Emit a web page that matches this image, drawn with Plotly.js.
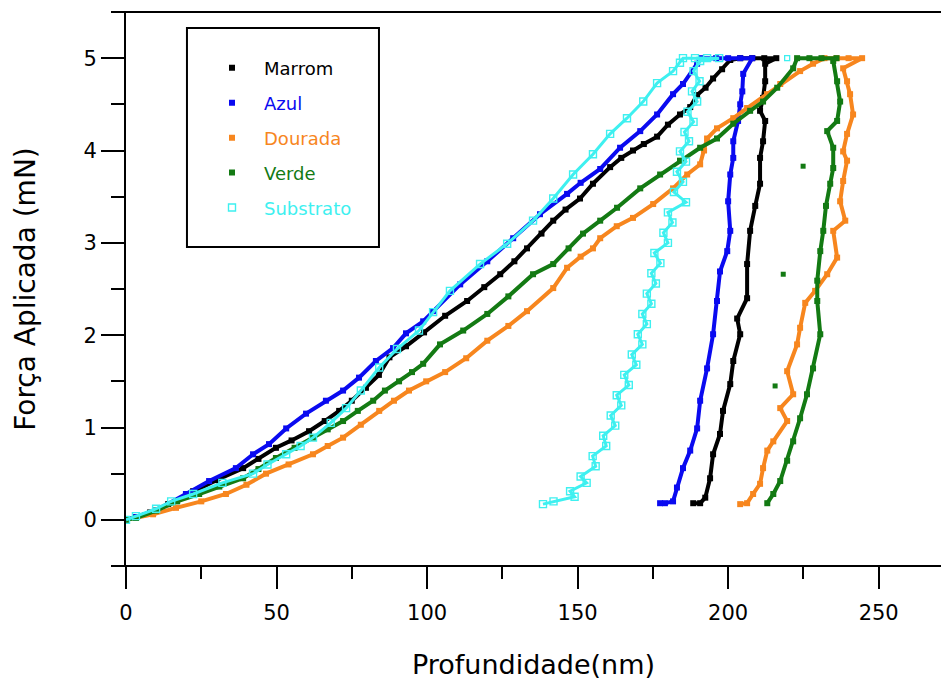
<!DOCTYPE html>
<html><head><meta charset="utf-8">
<script src="https://cdn.plot.ly/plotly-3.0.1.min.js"></script>
<style>html,body{margin:0;padding:0;background:#fff;} #chart{width:941px;height:684px;}</style>
</head><body><div id="chart"></div>
<script>
// Nanoindentation curves: Profundidade (nm) vs Força Aplicada (mN)
const seriesNames = ['Marrom', 'Azul', 'Dourada', 'Verde', 'Substrato'];
const seriesColors = ['#000000', '#0a0af0', '#f7861e', '#137a13', '#3ef0f0'];

const marromX = [0,3.3,8,14,22.3,30,38.9,44,49.8,55,60.8,66,70.8,75,79.7,84,87.5,93,99,106,113.3,119,124.3,129,133.2,138,141.9,146,150.8,155.1,160.8,164.5,168.4,172,176.4,180,184,187.4,189.7,192.5,195,198,200.7,
  204,208,212,216,
  212.3,212.3,211.6,210.6,212.3,211.6,210.6,210.6,209,207.3,206.3,206.3,203,204,201.7,200.7,198.3,197.3,195,194,192.4,190.7,188.4];
const marromY = [0,0.03,0.08,0.17,0.31,0.43,0.56,0.66,0.78,0.86,0.96,1.07,1.18,1.29,1.43,1.57,1.76,1.88,2.03,2.21,2.37,2.52,2.66,2.80,2.94,3.10,3.24,3.36,3.48,3.64,3.82,3.92,4.0,4.07,4.15,4.28,4.39,4.47,4.6,4.68,4.78,4.88,4.98,
  5,5,5,5,
  4.94,4.75,4.57,4.43,4.32,4.10,3.92,3.64,3.4,3.13,2.77,2.40,2.18,2.01,1.72,1.47,1.18,0.93,0.71,0.45,0.24,0.18,0.18];

const azulX = [0,3.3,10,19.9,27.6,36.5,42.2,47.5,53.2,59.8,66.4,72.1,77.4,83,88.7,93,98.7,102,111,120,128.6,137.5,146.5,151,157.5,164.1,170.8,176.4,181.7,185,189.7,191,
  196,200,204,208,
  205,204.7,204,203.3,201.7,201.7,200.7,200,200.7,199.7,197.3,196.3,195,193,190.7,189.7,187.4,185,183,181.7,179,177.4];
const azulY = [0,0.03,0.1,0.28,0.42,0.56,0.71,0.82,0.99,1.15,1.29,1.40,1.54,1.72,1.86,2.02,2.15,2.26,2.55,2.8,3.05,3.31,3.53,3.65,3.8,4.03,4.21,4.39,4.61,4.72,4.94,5,
  5,5,5,5,
  4.83,4.64,4.5,4.32,4.1,3.92,3.74,3.45,3.13,2.91,2.69,2.37,2.01,1.64,1.29,0.99,0.75,0.56,0.35,0.2,0.18,0.18];

const douradaX = [0,3.3,9,16.6,25,33.2,40,46.5,54,62.1,67,72.1,78,84.1,89,94,99.7,106,113,120,127,133.2,141.9,146.5,151,155.1,157.5,163,168.4,175.1,181.7,186.4,190.7,192,193,196.3,201.7,206.3,212.9,217.3,223.9,228.2,232,
  236,240,244.5,
  238.2,239.5,240.5,241.5,239.5,238.2,239.5,238.2,237.2,238.9,234.9,236.2,232.9,228.9,225.6,223.9,222.9,219.6,221.6,217.3,219.6,215,213,211.6,210.6,208.3,206.3,204];
const douradaY = [0,0.02,0.06,0.13,0.2,0.28,0.38,0.5,0.6,0.71,0.8,0.89,1.03,1.18,1.29,1.4,1.5,1.6,1.75,1.94,2.1,2.26,2.51,2.73,2.85,2.94,3.05,3.18,3.27,3.42,3.59,3.74,3.85,4.0,4.13,4.24,4.35,4.46,4.61,4.72,4.86,4.94,5,
  5,5,5,
  4.89,4.75,4.61,4.39,4.18,3.99,3.89,3.67,3.45,3.24,3.13,2.84,2.66,2.48,2.35,2.08,1.90,1.61,1.36,1.21,1.07,0.85,0.75,0.56,0.39,0.28,0.18,0.17];

const verdeX = [0,3.3,10,17,24.3,31,38.9,44,49.8,56,62.1,67,72.1,77,82.1,86,90.7,95,98.7,104.3,112,120,127,135.2,141.9,147,151.8,157.5,163.1,170.8,177.4,184,190.7,196.3,201.7,207.3,211.6,216.3,221.6,222.9,
  227,231,236,
  234.9,236.2,237.2,236.2,232.9,234.9,234.9,233.9,232.5,231.6,230.6,229.6,229.6,230.6,228.2,226.2,223.9,221.6,219.6,217.3,215,213];
const verdeY = [0,0.02,0.1,0.2,0.28,0.36,0.45,0.55,0.67,0.78,0.89,0.98,1.07,1.18,1.29,1.4,1.5,1.6,1.69,1.9,2.05,2.23,2.42,2.66,2.77,2.94,3.1,3.24,3.38,3.59,3.74,3.89,4.03,4.13,4.29,4.43,4.53,4.68,4.89,5,
  5,5,5,
  4.97,4.75,4.53,4.32,4.21,4.03,3.81,3.64,3.4,3.13,2.91,2.59,2.37,2.01,1.64,1.36,1.10,0.85,0.64,0.42,0.28,0.18];
const verdeStrayX = [224.9,218.3,215.6];
const verdeStrayY = [3.83,2.66,1.45];

const substratoX = [0,3.3,10,15,22.3,32,42.2,47,53.2,58,62.1,68,73.1,78,84.1,90,97.3,102,107.6,117.6,126.6,135.2,141.9,148.5,155.1,160.8,166.4,171.8,176.4,181.7,184,185,
  189,193,197,
  190.7,188.5,190.5,188,189.7,186.5,188.5,185.5,187,184,186,183,185,182,186,180,181.5,178.5,180,175.5,177.5,174.5,176,173,174.5,171.5,173,170,171.5,168,169.5,165.5,167,163,164.5,161,162.5,158.5,159.5,155,156,151,153,147.5,149,142,138.5];
const substratoY = [0,0.04,0.12,0.2,0.28,0.4,0.5,0.6,0.71,0.8,0.89,1.05,1.21,1.4,1.65,1.85,2.05,2.25,2.48,2.77,2.99,3.24,3.48,3.74,3.96,4.18,4.35,4.53,4.73,4.86,4.95,5,
  5,5,5,
  4.97,4.86,4.75,4.64,4.53,4.42,4.31,4.2,4.1,3.99,3.88,3.77,3.66,3.55,3.44,3.33,3.22,3.11,3.0,2.89,2.78,2.67,2.56,2.45,2.34,2.23,2.12,2.01,1.9,1.79,1.68,1.57,1.46,1.35,1.24,1.13,1.02,0.91,0.8,0.69,0.58,0.47,0.4,0.31,0.25,0.2,0.17];
const substratoStrayX = [219.6];
const substratoStrayY = [5];

const seriesData = [
  [marromX, marromY, null, null],
  [azulX, azulY, null, null],
  [douradaX, douradaY, null, null],
  [verdeX, verdeY, verdeStrayX, verdeStrayY],
  [substratoX, substratoY, substratoStrayX, substratoStrayY]
];

const FONT = 'DejaVu Sans, Arial, sans-serif';
const traces = [];
seriesData.forEach(function (d, i) {
  const col = seriesColors[i];
  const hollow = (i === 4);
  traces.push({
    x: d[0], y: d[1], type: 'scatter', mode: 'lines',
    line: {color: col, width: hollow ? 3 : 4},
    legendgroup: 'g' + i, showlegend: false, hoverinfo: 'skip'
  });
  traces.push({
    x: d[0], y: d[1], type: 'scatter', mode: 'markers',
    name: '<span style="color:' + col + '">' + seriesNames[i] + '</span>',
    marker: {symbol: hollow ? 'square-open' : 'square', size: hollow ? 7 : 6, color: col, line: {width: hollow ? 1.4 : 0, color: col}},
    legendgroup: 'g' + i, showlegend: true
  });
  if (d[2]) {
    traces.push({
      x: d[2], y: d[3], type: 'scatter', mode: 'markers',
      marker: {symbol: hollow ? 'square-open' : 'square', size: 5, color: col, line: {width: hollow ? 1.3 : 0, color: col}},
      legendgroup: 'g' + i, showlegend: false
    });
  }
});

const layout = {
  width: 941, height: 684,
  margin: {l: 126, r: 0, t: 12, b: 118, pad: 0},
  paper_bgcolor: '#ffffff', plot_bgcolor: '#ffffff',
  font: {family: FONT, color: '#000000'},
  showlegend: true,
  legend: {
    x: 0.0908, xanchor: 'left', y: 0.932, yanchor: 'top',
    bgcolor: 'rgba(0,0,0,0)', borderwidth: 0,
    font: {family: FONT, size: 18, color: '#000'},
    tracegroupgap: 8.5, traceorder: 'grouped', itemwidth: 54
  },
  xaxis: {
    range: [0, 270.7], tickmode: 'linear', tick0: 0, dtick: 50,
    ticks: 'outside', ticklen: 22, tickwidth: 2, tickcolor: '#000',
    minor: {ticks: 'outside', ticklen: 12, tickwidth: 2, tickcolor: '#000', dtick: 25, tick0: 0},
    showline: false, showgrid: false, zeroline: false,
    tickfont: {family: FONT, size: 21, color: '#000'}, ticklabelstandoff: 6,
    title: {text: '\u00a0Profundidade(nm)', font: {family: FONT, size: 27, color: '#000'}, standoff: 30}
  },
  yaxis: {
    range: [-0.5, 5.5], tickmode: 'linear', tick0: 0, dtick: 1,
    ticks: 'outside', ticklen: 23, tickwidth: 2, tickcolor: '#000',
    minor: {ticks: 'outside', ticklen: 13, tickwidth: 2, tickcolor: '#000', dtick: 0.5, tick0: 0},
    showline: true, linewidth: 2, linecolor: '#000', showgrid: false, zeroline: false,
    tickfont: {family: FONT, size: 21, color: '#000'}, ticklabelstandoff: 0,
    title: {text: 'Força Aplicada (mN)\u00a0\u00a0\u00a0\u00a0', font: {family: FONT, size: 28, color: '#000'}, standoff: 40}
  },
  shapes: [
    {type: 'line', xref: 'paper', yref: 'paper', x0: -0.016, x1: 1, y0: 1, y1: 1, line: {color: '#000', width: 2}},
    {type: 'line', xref: 'paper', yref: 'paper', x0: -0.016, x1: 1, y0: 0, y1: 0, line: {color: '#000', width: 2}},
    {type: 'rect', xref: 'paper', yref: 'paper', x0: 0.0748, x1: 0.3104, y0: 0.5758, y1: 0.9711, line: {color: '#000', width: 2}, fillcolor: 'rgba(0,0,0,0)'}
  ]
};

Plotly.newPlot('chart', traces, layout, {displayModeBar: false, staticPlot: true});
</script>
</body></html>
